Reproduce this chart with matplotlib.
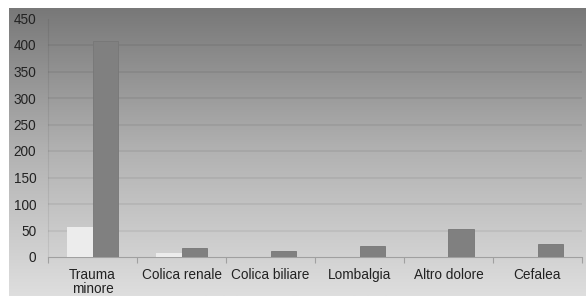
import numpy as np
import matplotlib.pyplot as plt
from matplotlib.colors import LinearSegmentedColormap

categories = ['Trauma\nminore', 'Colica renale', 'Colica biliare',
              'Lombalgia', 'Altro dolore', 'Cefalea']
series_light = [57, 8, 0, 0, 0, 0]
series_dark = [408, 17, 12, 21, 52, 24]
y_ticks = [0, 50, 100, 150, 200, 250, 300, 350, 400, 450]

plt.rcParams['font.family'] = ['Liberation Sans', 'DejaVu Sans']

fig = plt.figure(figsize=(5.86, 2.96), dpi=100)

# gradient background panel
bg = fig.add_axes([9 / 586, 0, 1 - 9 / 586, 1 - 8 / 296])
cmap = LinearSegmentedColormap.from_list(
    'bg', [(0.0, '#787878'), (0.5, '#b2b2b2'), (1.0, '#dedede')])
grad = np.linspace(0, 1, 256).reshape(-1, 1)
bg.imshow(grad, aspect='auto', cmap=cmap, extent=[0, 1, 0, 1], origin='upper')
bg.set_axis_off()

ax = fig.add_axes([48 / 586, 1 - 257 / 296, 534 / 586, 238.5 / 296])
ax.patch.set_alpha(0)

x = np.arange(len(categories))
w = 0.29
ax.bar(x - w / 2, series_light, width=w, color='#ececec', zorder=3)
ax.bar(x + w / 2, series_dark, width=w, color='#808080',
       edgecolor='#777777', linewidth=0.6, zorder=3)

ax.set_xlim(-0.5, len(categories) - 0.5)
ax.set_ylim(0, 450)
ax.set_yticks(y_ticks)
ax.set_yticklabels([str(v) for v in y_ticks], fontsize=9.8, color='#222222')
ax.tick_params(axis='y', length=0, pad=8.5)

ax.set_xticks(x)
ax.set_xticklabels(categories, fontsize=9.8, color='#222222', linespacing=1.0)
ax.tick_params(axis='x', length=0, pad=8)
ax.set_xticks(np.arange(len(categories) + 1) - 0.5, minor=True)
ax.tick_params(axis='x', which='minor', length=4, color='#a0a0a0', width=0.8)

for yv in y_ticks[1:-1]:
    ax.axhline(yv, color='#000000', alpha=0.07, linewidth=1.2, zorder=1)

for s in ['top', 'right']:
    ax.spines[s].set_visible(False)
ax.spines['left'].set_color('#000000')
ax.spines['left'].set_alpha(0.07)
ax.spines['bottom'].set_color('#a0a0a0')
ax.spines['bottom'].set_linewidth(0.8)

fig.savefig('out.png', dpi=100)
